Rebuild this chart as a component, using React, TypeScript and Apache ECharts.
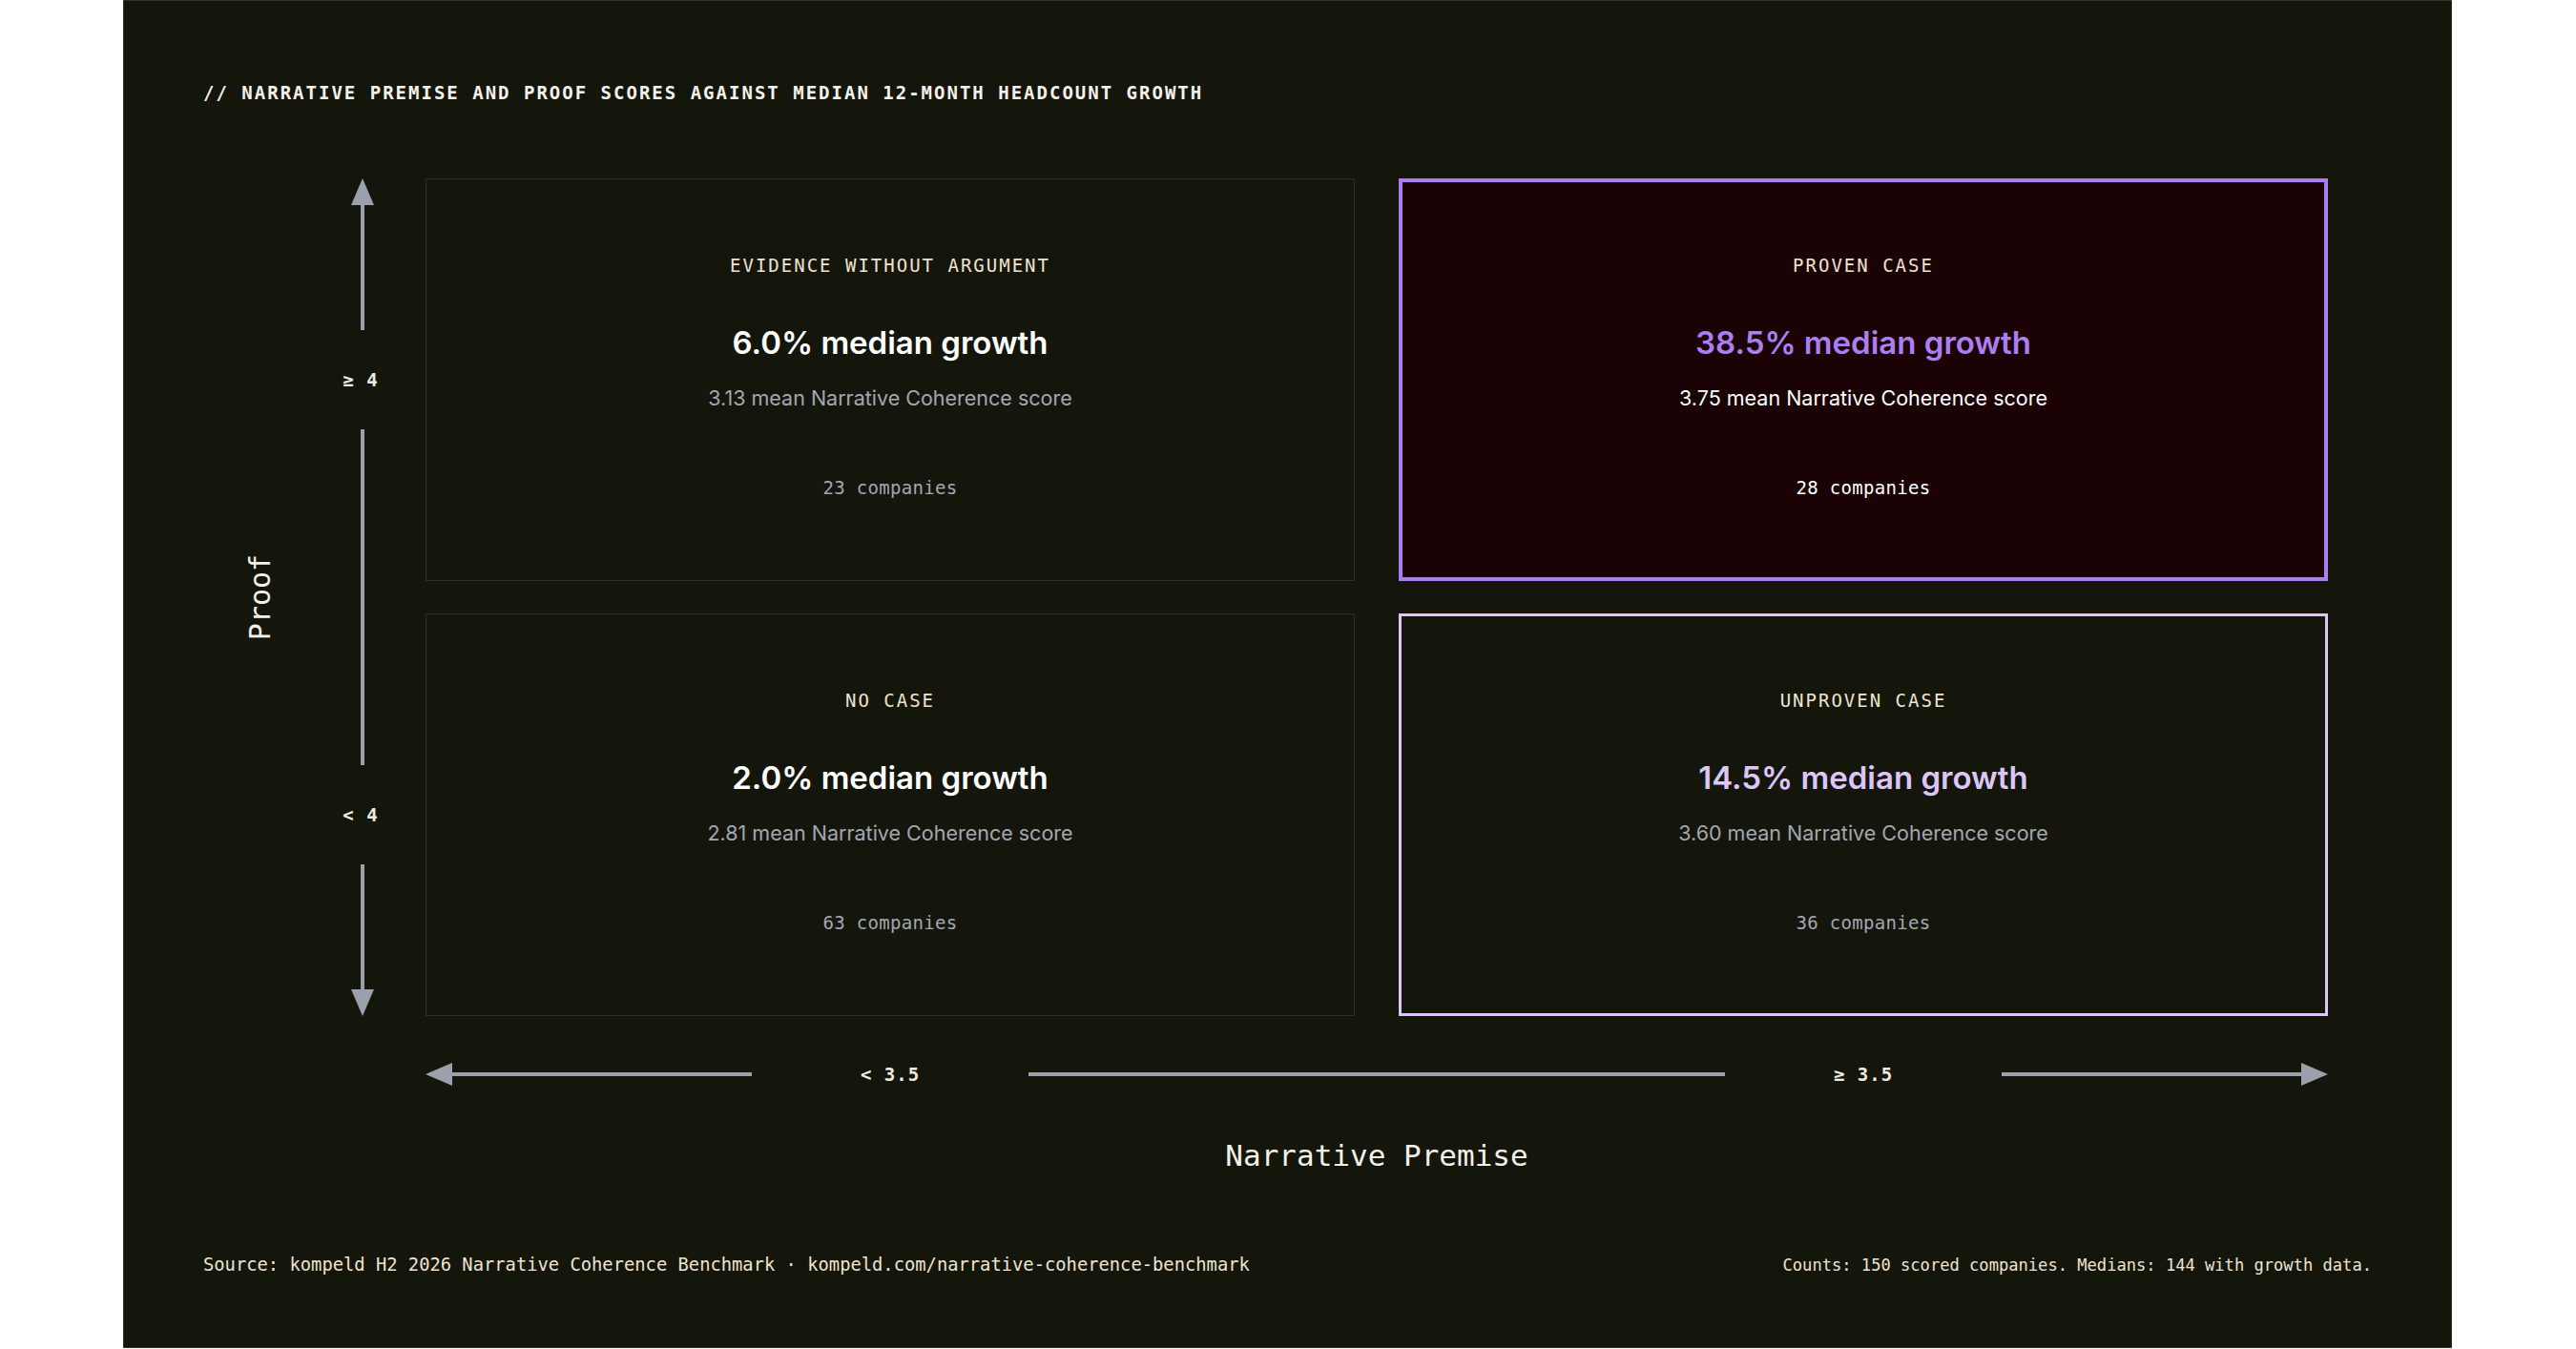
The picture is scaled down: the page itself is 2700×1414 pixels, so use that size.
import { useEffect, useRef } from 'react';
import * as echarts from 'echarts';

// 축 구간
const premiseBands = ['< 3.5', '≥ 3.5'];
const proofBands = ['< 4', '≥ 4'];

// 사분면 데이터 (아래-왼쪽, 아래-오른쪽, 위-왼쪽, 위-오른쪽)
const quadrantNames = ['NO CASE', 'UNPROVEN CASE', 'EVIDENCE WITHOUT ARGUMENT', 'PROVEN CASE'];
const quadrantPremise = [0, 1, 0, 1];
const quadrantProof = [0, 0, 1, 1];
const medianGrowth = [2.0, 14.5, 6.0, 38.5];
const meanCoherence = [2.81, 3.60, 3.13, 3.75];
const companyCounts = [63, 36, 23, 28];

const titleText = '// NARRATIVE PREMISE AND PROOF SCORES AGAINST MEDIAN 12-MONTH HEADCOUNT GROWTH';
const sourceText = 'Source: kompeld H2 2026 Narrative Coherence Benchmark · kompeld.com/narrative-coherence-benchmark';
const countsText = 'Counts: 150 scored companies. Medians: 144 with growth data.';

const W = 2700;
const H = 1414;
const mono = "'DejaVu Sans Mono', 'Liberation Mono', monospace";
const sans = "Inter, 'Noto Sans', sans-serif";
const cream = '#efe3d0';
const muted = '#a3a7b3';
const arrowColor = '#9ba0ad';
const GAP_X = 46;
const GAP_Y = 34;

const cellStyles = [
    { fill: '#15160b', stroke: '#31321d', lw: 1, head: '#ffffff', sub: muted, count: muted },
    { fill: '#15160b', stroke: '#dcc6f6', lw: 3, head: '#dcc6f8', sub: muted, count: muted },
    { fill: '#15160b', stroke: '#31321d', lw: 1, head: '#ffffff', sub: muted, count: muted },
    { fill: '#1b0204', stroke: '#a97ef2', lw: 4, head: '#ab7ef2', sub: '#ffffff', count: '#ffffff' }
];

export default function App() {
    const chartRef = useRef<HTMLDivElement>(null);

    useEffect(() => {
        if (!chartRef.current) return;
        const chart = echarts.init(chartRef.current, null, { renderer: 'svg' });

        const option: any = {
            animation: false,
            backgroundColor: '#ffffff',
            grid: { left: 423, right: W - 2463, top: 170, bottom: H - 1082 },
            xAxis: {
                type: 'category',
                data: premiseBands,
                axisLine: { show: false },
                axisTick: { show: false },
                splitLine: { show: false },
                axisLabel: { margin: 44, verticalAlign: 'middle', fontFamily: mono, fontSize: 19, fontWeight: 'bold', color: '#f1ebe0' },
                name: 'Narrative Premise',
                nameLocation: 'middle',
                nameGap: 129,
                nameTextStyle: { fontFamily: mono, fontSize: 31, color: '#f4f0ea', verticalAlign: 'middle' }
            },
            yAxis: {
                type: 'category',
                data: proofBands,
                axisLine: { show: false },
                axisTick: { show: false },
                splitLine: { show: false },
                axisLabel: { margin: 45, align: 'center', fontFamily: mono, fontSize: 19, fontWeight: 'bold', color: '#f1ebe0' },
                name: 'Proof',
                nameLocation: 'middle',
                nameRotate: 90,
                nameGap: 151,
                nameTextStyle: { fontFamily: mono, fontSize: 30, color: '#f4f0ea', verticalAlign: 'middle' }
            },
            series: [
                {
                    type: 'custom',
                    data: quadrantNames.map((_, i) => [quadrantPremise[i], quadrantProof[i]]),
                    encode: { x: 0, y: 1 },
                    renderItem: (params: any, api: any) => {
                        const i = params.dataIndex;
                        const s = cellStyles[i];
                        const c = api.coord([api.value(0), api.value(1)]);
                        const size = api.size([1, 1]);
                        const w = size[0] - GAP_X;
                        const h = size[1] - GAP_Y;
                        const x0 = c[0] - w / 2;
                        const y0 = c[1] - h / 2;
                        const txt = (text: string, y: number, fill: string, font: string) => ({
                            type: 'text',
                            style: { text, x: c[0], y: y0 + y, fill, font, textAlign: 'center', textVerticalAlign: 'middle' }
                        });
                        return {
                            type: 'group',
                            children: [
                                {
                                    type: 'rect',
                                    shape: { x: x0 + s.lw / 2, y: y0 + s.lw / 2, width: w - s.lw, height: h - s.lw },
                                    style: { fill: s.fill, stroke: s.stroke, lineWidth: s.lw }
                                },
                                txt(quadrantNames[i], 91, cream, `19px ${mono}`),
                                txt(`${medianGrowth[i].toFixed(1)}% median growth`, 172, s.head, `600 33px ${sans}`),
                                txt(`${meanCoherence[i].toFixed(2)} mean Narrative Coherence score`, 230, s.sub, `21.5px ${sans}`),
                                txt(`${companyCounts[i]} companies`, 324, s.count, `19px ${mono}`)
                            ]
                        };
                    }
                }
            ]
        };
        chart.setOption(option);

        // 축 위치에서 화살표 좌표 계산
        const xc = premiseBands.map(b => chart.convertToPixel({ xAxisIndex: 0 }, b) as number);
        const yc = proofBands.map(b => chart.convertToPixel({ yAxisIndex: 0 }, b) as number);
        const bandW = xc[1] - xc[0];
        const bandH = yc[0] - yc[1];
        const left = xc[0] - (bandW - GAP_X) / 2;
        const right = xc[1] + (bandW - GAP_X) / 2;
        const top = yc[1] - (bandH - GAP_Y) / 2;
        const bottom = yc[0] + (bandH - GAP_Y) / 2;
        const ax = 380;
        const ay = 1126;
        const head = 28;
        const half = 12;
        const lineStyle = { stroke: arrowColor, lineWidth: 4 };
        const seg = (x1: number, y1: number, x2: number, y2: number) => ({
            type: 'line', z: 10, shape: { x1, y1, x2, y2 }, style: lineStyle
        });
        const tri = (points: number[][]) => ({
            type: 'polygon', z: 10, shape: { points }, style: { fill: arrowColor }
        });
        const vGap = 52;
        const hGap = 145;

        chart.setOption({
            graphic: [
                {
                    type: 'rect', z: -1, silent: true,
                    shape: { x: 129.5, y: 0.5, width: 2440, height: 1412 },
                    style: { fill: '#15160b', stroke: '#34351f', lineWidth: 1 }
                },
                seg(ax, top + 4, ax, yc[1] - vGap),
                seg(ax, yc[1] + vGap, ax, yc[0] - vGap),
                seg(ax, yc[0] + vGap, ax, bottom - 4),
                tri([[ax, top], [ax - half, top + head], [ax + half, top + head]]),
                tri([[ax, bottom], [ax - half, bottom - head], [ax + half, bottom - head]]),
                seg(left + 4, ay, xc[0] - hGap, ay),
                seg(xc[0] + hGap, ay, xc[1] - hGap, ay),
                seg(xc[1] + hGap, ay, right - 4, ay),
                tri([[left, ay], [left + head, ay - half], [left + head, ay + half]]),
                tri([[right, ay], [right - head, ay - half], [right - head, ay + half]]),
                {
                    type: 'text', z: 10,
                    style: { text: titleText, x: 213, y: 97, fill: '#f5f1ea', font: `bold 19px ${mono}`, textAlign: 'left', textVerticalAlign: 'middle' }
                },
                {
                    type: 'text', z: 10,
                    style: { text: sourceText, x: 213, y: 1325, fill: cream, font: `18.8px ${mono}`, textAlign: 'left', textVerticalAlign: 'middle' }
                },
                {
                    type: 'text', z: 10,
                    style: { text: countsText, x: 2486, y: 1326, fill: cream, font: `17.1px ${mono}`, textAlign: 'right', textVerticalAlign: 'middle' }
                }
            ]
        });

        // 모노 글꼴 자간 보정
        const spacing: Record<string, number> = { [titleText]: 2 };
        quadrantNames.forEach(n => { spacing[n] = 2; });
        companyCounts.forEach(n => { spacing[`${n} companies`] = 0.3; });
        premiseBands.concat(proofBands).forEach(b => { spacing[b] = 1; });
        chartRef.current.querySelectorAll('text').forEach(t => {
            const ls = spacing[t.textContent ?? ''];
            if (ls) t.setAttribute('letter-spacing', String(ls));
        });

        return () => {
            chart.dispose();
        };
    }, []);

    return (
        <div
            ref={chartRef}
            style={{ position: 'fixed', left: 0, top: 0, width: W, height: H }}
        />
    );
}
